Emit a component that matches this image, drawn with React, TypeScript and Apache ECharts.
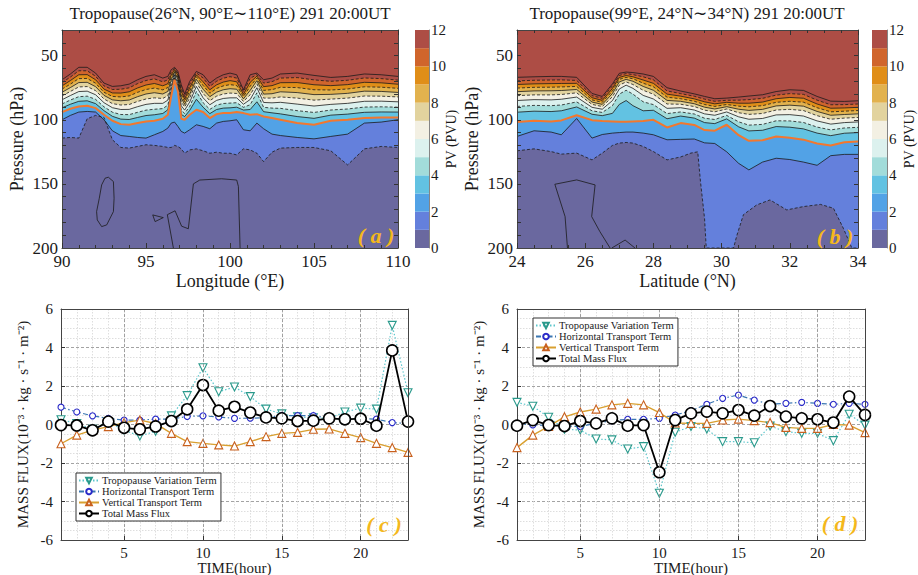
import React, { useEffect, useRef } from 'react';
import * as echarts from 'echarts';

const FONT = 'Liberation Serif, Times New Roman, serif';

// ---------- PV colour bands (0-1, 1-2, ..., 11-12) ----------
const PV_COLORS = ['#6a689f', '#6480dc', '#52a2e6', '#62c2e2', '#a2dcda', '#dcf1ee', '#f3f0e3', '#e2d39e', '#e2b24e', '#e08e18', '#d0652c', '#ad4d45'];
const PRESS_LABELS = [50, 100, 150, 200];
const PRESS_TICKS = [40, 50, 60, 70, 80, 90, 100, 110, 120, 130, 140, 150, 160, 170, 180, 190];

// ---------- panel (a): isolines of PV (pressure, hPa) vs longitude ----------
const LON_L = [90, 90.5, 91, 91.5, 92, 92.5, 93, 93.5, 94, 94.5, 95, 95.5, 96, 96.3, 96.5, 96.7, 96.9, 97.1, 97.3, 97.6, 98, 98.4, 98.8, 99.2, 99.6, 100, 100.4, 100.8, 101.2, 101.6, 102, 102.5, 103, 104, 105, 106, 107, 108, 109, 110];
const A_PV1 = [114.3, 113.8, 114.3, 99.2, 96.6, 98.2, 115.6, 121.6, 122.1, 120.8, 119.5, 120, 120.8, 121.6, 121.6, 120, 120.8, 122.7, 126.1, 123.5, 122.7, 124.2, 126.1, 125.3, 126.1, 126.1, 127.4, 122.7, 123.5, 126.1, 132.6, 125.3, 122.1, 121.6, 121.6, 124.2, 135.2, 122.7, 120.8, 121.6];
const A_PV2 = [100, 96.6, 94, 93.5, 94, 100, 108.6, 112.3, 113, 113.8, 114.3, 111.7, 109.1, 106.5, 102.6, 101.8, 105.2, 109.1, 110.4, 107.8, 103.9, 105.2, 107, 102.6, 101.3, 100.8, 100, 107.8, 108.6, 102.6, 107, 111.2, 112.3, 113.8, 114.9, 113, 111.2, 102.6, 101.8, 100];
const A_PV3 = [94, 91.4, 89.6, 89.1, 90.9, 96.1, 100.8, 103.4, 103.9, 102.6, 101.3, 100.8, 99.2, 96.1, 81.8, 68.8, 77.9, 99.2, 100, 96.1, 92.2, 94, 98.7, 95.6, 94.8, 94.8, 94, 94.8, 96.1, 95.6, 97.4, 98.7, 100, 102.6, 103.9, 100.8, 100, 98.7, 98.2, 98.2];
const A_PV4 = [90.7, 87.9, 85.6, 85.2, 87.4, 92.9, 97.3, 99.5, 99.8, 98.2, 96.7, 96.1, 95.1, 92.2, 79.1, 67.5, 75.9, 95.8, 97.5, 92.7, 84, 90.2, 95.2, 92, 90.9, 90.7, 90.2, 92.4, 92, 86, 93.7, 94.6, 95.4, 97.5, 98.9, 96.4, 95.6, 94.2, 93.9, 94];
const A_PV5 = [87.7, 84.6, 82, 81.6, 84.1, 89.9, 94.1, 95.9, 96, 94.2, 92.5, 91.8, 91.3, 88.6, 76.6, 66.4, 74, 92.6, 95, 89.6, 78, 86.7, 91.9, 88.6, 87.3, 87, 86.7, 90.3, 88.3, 79, 90.3, 90.9, 91.1, 92.9, 94.3, 92.4, 91.6, 90.1, 89.9, 90.2];
const A_PV6 = [84.4, 81.1, 78, 77.7, 80.5, 86.7, 90.6, 92, 91.9, 89.8, 88, 87.2, 87.2, 84.7, 73.9, 65.1, 72, 89.1, 92.5, 86.2, 74, 82.9, 88.3, 84.9, 83.4, 82.9, 82.9, 87.9, 84.2, 75, 86.5, 86.8, 86.4, 87.8, 89.3, 88, 87.2, 85.6, 85.5, 86];
const A_PV7 = [81.4, 77.9, 74.4, 74.1, 77.3, 83.8, 87.4, 88.5, 88.1, 85.7, 83.8, 82.9, 83.4, 81.2, 71.4, 63.9, 70.1, 86, 90, 83.1, 71, 79.5, 85.1, 81.6, 79.9, 79.2, 79.5, 85.7, 80.5, 72, 83.1, 83.1, 82.2, 83.1, 84.7, 83.9, 83.1, 81.5, 81.6, 82.2];
const A_PV8 = [78.6, 74.9, 71, 70.8, 74.2, 81, 84.5, 85.2, 84.6, 82, 79.9, 78.9, 79.9, 77.9, 69.1, 62.9, 68.4, 83, 88, 80.2, 68.5, 76.2, 82, 78.5, 76.6, 75.8, 76.2, 83.7, 77.1, 69.5, 80, 79.7, 78.2, 78.8, 80.4, 80.2, 79.4, 77.7, 77.9, 78.7];
const A_PV9 = [76.1, 72.2, 67.9, 67.8, 71.5, 78.6, 81.8, 82.2, 81.4, 78.6, 76.4, 75.3, 76.7, 74.9, 67, 61.9, 66.8, 80.4, 86, 77.6, 66.5, 73.3, 79.3, 75.6, 73.6, 72.6, 73.3, 81.9, 73.9, 67.5, 77.1, 76.5, 74.7, 74.9, 76.6, 76.8, 76, 74.3, 74.6, 75.5];
const A_PV10 = [73.6, 69.4, 64.9, 64.8, 68.8, 76.1, 79.1, 79.2, 78.2, 75.2, 72.9, 71.7, 73.5, 71.9, 65, 60.9, 65.3, 77.7, 84, 75, 65, 70.4, 76.6, 72.8, 70.6, 69.5, 70.4, 80.1, 70.8, 66, 74.2, 73.4, 71.1, 71, 72.7, 73.4, 72.6, 70.8, 71.2, 72.3];
const A_PV11 = [71.1, 66.7, 61.8, 61.8, 66.1, 73.6, 76.4, 76.2, 75.1, 71.8, 69.4, 68.1, 70.4, 68.9, 62.9, 60, 63.7, 75.1, 82, 72.4, 63.5, 67.5, 73.9, 70, 67.6, 66.4, 67.5, 78.2, 67.7, 64.8, 71.4, 70.3, 67.5, 67.1, 68.9, 70, 69.2, 67.4, 67.9, 69.1];
const A_PV12 = [68.8, 64.3, 59.1, 59.1, 63.6, 71.4, 74, 73.5, 72.2, 68.8, 66.2, 64.9, 67.5, 66.2, 61, 59.1, 62.3, 72.7, 80, 70.1, 62.3, 64.9, 71.4, 67.5, 64.9, 63.6, 64.9, 76.6, 64.9, 63.6, 68.8, 67.5, 64.3, 63.6, 65.4, 67, 66.2, 64.3, 64.9, 66.2];
// PV = 0 contours (lon, hPa)
const A_ZERO_1 = [[92.76, 144.8], [93.06, 148.2], [93.1, 161.2], [93.06, 171.6], [92.66, 182], [92.36, 183.3], [92.1, 178.1], [92.06, 171.6], [92.22, 161.2], [92.36, 150.8], [92.56, 145.6], [92.76, 144.8]];
const A_ZERO_2 = [[95.4, 174.2], [96.03, 176.3], [95.54, 179.4], [95.4, 174.2]];
const A_ZERO_3 = [[96.63, 200], [96.27, 174], [96.73, 171], [97.12, 183], [97.52, 185], [97.82, 150], [98.2, 147], [99.5, 146], [100.4, 147], [100.5, 152], [100.6, 200]];

// ---------- panel (b): isolines of PV vs latitude ----------
const LAT_R = [24, 24.5, 25, 25.3, 25.75, 26.2, 26.5, 26.8, 27.0, 27.2, 27.4, 27.7, 28, 28.4, 28.8, 29.2, 29.5, 29.8, 30.15, 30.5, 30.8, 31.2, 31.6, 32, 32.4, 32.8, 33.2, 33.6, 34];
const B_PV1 = [[24, 124.2], [24.5, 122.7], [25, 124.8], [25.3, 126.8], [25.75, 126], [26.2, 131.3], [26.5, 126], [26.8, 120], [27, 118.2], [27.2, 117.7], [27.4, 118.2], [27.7, 120.8], [28, 124.8], [28.4, 131.3], [28.8, 129], [29.1, 126], [29.3, 125], [29.38, 148], [29.5, 177], [29.55, 200], [30.35, 200], [30.45, 190], [30.64, 174], [31.03, 166.4], [31.42, 162.5], [31.91, 170.3], [32.4, 167.7], [32.9, 166], [33.28, 169], [33.57, 184.6], [33.82, 200], [34, 200]];
const B_PV2 = [113, 108.6, 109.6, 111.7, 99, 114.3, 111.5, 110.4, 110, 109.6, 109.6, 110.4, 111.7, 115.6, 115.3, 115, 118, 118.5, 125, 134, 139.1, 133, 130, 131, 133, 135.5, 128, 127, 127];
const B_PV3 = [101.8, 100.8, 101.3, 100.5, 96.5, 100.3, 101, 101.3, 101.5, 101.5, 101.3, 101, 100, 106, 102.6, 104, 108, 108.5, 103.9, 112, 116.4, 116, 113, 114, 115.5, 118.5, 120, 117.5, 117];
const B_PV4 = [94.1, 93.3, 93.6, 93, 90, 95.7, 96.8, 95, 88, 85, 89, 93, 92.6, 99.2, 97.1, 98.7, 102.2, 103, 99.3, 105.5, 108.7, 108.2, 105.3, 105.8, 107.1, 110.4, 112.4, 110.5, 110];
const B_PV5 = [89.6, 88.8, 89, 88.5, 86.1, 93, 94.3, 89, 80, 77, 80, 86, 88.2, 95.2, 93.9, 95.5, 98.8, 99.8, 96.6, 101.6, 104.2, 103.6, 100.8, 100.9, 102.1, 105.7, 107.9, 106.4, 105.9];
const B_PV6 = [85, 84.3, 84.5, 84, 82.3, 90.3, 91.8, 85, 76, 73, 75.5, 81, 83.8, 91.1, 90.6, 92.4, 95.4, 96.5, 93.9, 97.7, 99.6, 99, 96.2, 96, 97.1, 100.9, 103.4, 102.2, 101.7];
const B_PV7 = [81.2, 80.6, 80.6, 80.3, 79, 88, 89.7, 82, 73, 70.5, 72.5, 77, 80.1, 87.7, 87.9, 89.7, 92.5, 93.8, 91.6, 94.5, 95.8, 95.1, 92.4, 91.9, 92.8, 96.8, 99.6, 98.7, 98.2];
const B_PV8 = [78.1, 77.5, 77.4, 77.2, 76.4, 86.2, 88, 79.5, 70.5, 68.5, 70, 74, 77, 84.9, 85.6, 87.5, 90.2, 91.6, 89.8, 91.8, 92.7, 91.9, 89.2, 88.6, 89.4, 93.5, 96.5, 95.9, 95.4];
const B_PV9 = [75.3, 74.7, 74.6, 74.4, 74, 84.5, 86.4, 77.5, 68.5, 67, 68, 71.5, 74.3, 82.4, 83.6, 85.6, 88.1, 89.6, 88.1, 89.4, 89.9, 89, 86.4, 85.6, 86.3, 90.6, 93.8, 93.3, 92.8];
const B_PV10 = [72.5, 72, 71.8, 71.7, 71.6, 82.8, 84.9, 75.5, 67, 65.5, 66.5, 69, 71.6, 80, 81.6, 83.7, 86, 87.6, 86.4, 87.1, 87.1, 86.2, 83.6, 82.6, 83.2, 87.7, 91, 90.8, 90.3];
const B_PV11 = [69.7, 69.2, 69, 68.9, 69.3, 81.2, 83.3, 73.5, 65.5, 64, 64.8, 66.5, 68.9, 77.5, 79.6, 81.7, 83.9, 85.6, 84.8, 84.7, 84.3, 83.3, 80.8, 79.6, 80.2, 84.7, 88.3, 88.2, 87.7];
const B_PV12 = [66.9, 66.5, 66.2, 66.2, 66.9, 79.5, 81.8, 72, 63.8, 62.8, 63.2, 64.3, 66.2, 75, 77.6, 79.8, 81.8, 83.6, 83.1, 82.3, 81.5, 80.5, 78, 76.6, 77.1, 81.8, 85.5, 85.7, 85.2];
const B_ZERO_1 = [[25.48, 200], [25.41, 175.5], [25.11, 150.3], [25.75, 146.9], [26.29, 150.8], [26.19, 175.5], [26.43, 187.2], [26.73, 200]];
const B_ZERO_2 = [[26.78, 200], [27.17, 193.8], [27.46, 200]];

// ---------- panels (c), (d): mass flux ----------
const HOURS = [1, 2, 3, 4, 5, 6, 7, 8, 9, 10, 11, 12, 13, 14, 15, 16, 17, 18, 19, 20, 21, 22, 23];
const SERIES_NAMES = ['Tropopause Variation Term', 'Horizontal Transport Term', 'Vertical Transport Term', 'Total Mass Flux'];
const C_TROP = [0.25, 0.05, -0.25, 0.15, -0.3, -0.6, -0.35, 0.45, 1.5, 2.95, 1.7, 1.95, 1.45, 0.8, 0.55, 0.4, 0.35, 0.32, 0.65, 0.85, 0.8, 5.15, 1.65];
const C_HORI = [0.9, 0.65, 0.45, 0.32, 0.23, 0.23, 0.28, 0.28, 0.42, 0.45, 0.39, 0.32, 0.33, 0.35, 0.47, 0.46, 0.46, 0.32, 0.3, 0.3, 0.28, 0.1, 0.05];
const C_VERT = [-1.0, -0.55, -0.29, -0.11, 0.1, 0.23, 0.05, -0.46, -0.89, -0.98, -1.06, -1.12, -0.89, -0.63, -0.46, -0.41, -0.25, -0.23, -0.46, -0.68, -0.98, -1.2, -1.45];
const C_TOTAL = [-0.03, -0.05, -0.3, 0.15, -0.17, -0.25, -0.1, 0.18, 0.79, 2.05, 0.72, 0.92, 0.62, 0.37, 0.32, 0.18, 0.2, 0.32, 0.27, 0.3, -0.06, 3.85, 0.15];
const D_TROP = [1.15, 0.95, 0.38, -0.25, -0.29, -0.75, -0.8, -1.27, -1.15, -3.57, -0.4, -0.11, -0.23, -0.89, -0.89, -0.95, -0.08, -0.37, -0.46, -0.46, -0.84, 0.53, -0.03];
const D_HORI = [0.05, -0.02, -0.05, -0.08, -0.1, 0.06, 0.2, 0.27, 0.27, 0.32, 0.49, 0.72, 1.05, 1.36, 1.53, 1.27, 1.05, 1.1, 1.15, 1.1, 1.05, 1.1, 1.05];
const D_VERT = [-1.2, -0.55, -0.1, 0.4, 0.65, 0.8, 1.02, 1.1, 1.02, 0.62, 0.08, 0.06, 0.06, 0.23, 0.28, 0.2, 0.1, -0.15, -0.2, -0.2, 0.0, -0.03, -0.42];
const D_TOTAL = [-0.06, 0.23, -0.03, -0.08, 0.18, 0.06, 0.32, -0.06, -0.03, -2.48, 0.23, 0.58, 0.67, 0.58, 0.75, 0.46, 0.96, 0.41, 0.32, 0.27, 0.1, 1.45, 0.5];
const HOUR_LABELS = [5, 10, 15, 20];

const zip = (xs: number[], ys: number[]) => xs.map((x, i) => [x, ys[i]]);

function contourSeries(xs: number[], l1: number[][], levels: number[][], zeros: number[][][], xi: number, yi: number) {
  const all = [l1, ...levels.map((l) => zip(xs, l))]; // PV = 1 .. 12
  const out: any[] = [];
  all.forEach((d, idx) => {
    const k = idx + 1;
    if (k <= 11) {
      out.push({
        type: 'line', xAxisIndex: xi, yAxisIndex: yi, data: d, symbol: 'none', silent: true,
        lineStyle: { opacity: 0, width: 0 }, areaStyle: { color: PV_COLORS[k], opacity: 1 }, z: 2,
      });
    }
  });
  all.forEach((d, idx) => {
    const k = idx + 1;
    out.push({
      type: 'line', xAxisIndex: xi, yAxisIndex: yi, data: d, symbol: 'none', silent: true, z: k === 3 ? 4 : 3,
      lineStyle: k === 3 ? { color: '#f2772e', width: 2 } : { color: '#1a1a1a', width: 0.8, type: k % 2 === 1 ? [3, 2] : 'solid' },
    });
  });
  zeros.forEach((d) => {
    out.push({ type: 'line', xAxisIndex: xi, yAxisIndex: yi, data: d, symbol: 'none', silent: true, z: 3, lineStyle: { color: '#1a1a1a', width: 0.8 } });
  });
  return out;
}

function colorbarSeries(xi: number, yi: number, stack: string) {
  return PV_COLORS.map((c) => ({
    type: 'bar', xAxisIndex: xi, yAxisIndex: yi, stack, data: [1], barWidth: '100%', silent: true,
    itemStyle: { color: c },
  }));
}

function fluxSeries(xi: number, yi: number, trop: number[], hori: number[], vert: number[], total: number[]) {
  return [
    {
      name: SERIES_NAMES[0], type: 'line', xAxisIndex: xi, yAxisIndex: yi, data: zip(HOURS, trop),
      symbol: 'triangle', symbolRotate: 180, symbolSize: 8, z: 4,
      itemStyle: { color: '#ffffff', borderColor: '#2a9a8c', borderWidth: 1.1 },
      lineStyle: { color: '#5cc6cc', width: 1.2, type: [1.5, 2] },
    },
    {
      name: SERIES_NAMES[1], type: 'line', xAxisIndex: xi, yAxisIndex: yi, data: zip(HOURS, hori),
      symbol: 'circle', symbolSize: 6, z: 4,
      itemStyle: { color: '#ffffff', borderColor: '#2a2ac8', borderWidth: 1.1 },
      lineStyle: { color: '#3a76b2', width: 1.2, type: [5, 2.5, 1.5, 2.5] },
    },
    {
      name: SERIES_NAMES[2], type: 'line', xAxisIndex: xi, yAxisIndex: yi, data: zip(HOURS, vert),
      symbol: 'triangle', symbolSize: 8, z: 4,
      itemStyle: { color: '#ffffff', borderColor: '#c8601e', borderWidth: 1.1 },
      lineStyle: { color: '#d9a030', width: 1.4 },
    },
    {
      name: SERIES_NAMES[3], type: 'line', xAxisIndex: xi, yAxisIndex: yi, data: zip(HOURS, total),
      symbol: 'circle', symbolSize: 11, z: 5,
      itemStyle: { color: '#ffffff', borderColor: '#000000', borderWidth: 1.6 },
      lineStyle: { color: '#000000', width: 1.8 },
    },
  ];
}

const txt = { fontFamily: FONT, color: '#1a1a1a' };
const frameLine = { show: true, onZero: false, lineStyle: { color: '#444', width: 1 } };

function contourX(grid: number, min: number, max: number, interval: number, minorSplit: number, name: string, top: boolean) {
  return {
    gridIndex: grid, type: 'value', min, max, interval, position: top ? 'top' : 'bottom', z: 6,
    axisLine: frameLine,
    axisTick: { show: true, inside: true, length: 5, lineStyle: { color: '#333' } },
    minorTick: { show: true, splitNumber: minorSplit, length: 3, lineStyle: { color: '#333' } },
    axisLabel: top ? { show: false } : { ...txt, fontSize: 17, margin: 5 },
    splitLine: { show: false },
    name: top ? '' : name, nameLocation: 'middle', nameGap: 24, nameMoveOverlap: false, nameTextStyle: { ...txt, fontSize: 18 },
  };
}

function contourY(grid: number, right: boolean) {
  return {
    gridIndex: grid, type: 'value', inverse: true, min: 30, max: 200, position: right ? 'right' : 'left', z: 6,
    axisLine: frameLine,
    axisTick: { show: true, inside: true, length: 4, customValues: PRESS_TICKS, lineStyle: { color: '#333' } },
    axisLabel: right ? { show: false } : { ...txt, fontSize: 17, margin: 4, customValues: PRESS_LABELS },
    splitLine: { show: false },
    name: right ? '' : 'Pressure (hPa)', nameLocation: 'middle', nameGap: 36, nameMoveOverlap: false, nameTextStyle: { ...txt, fontSize: 18 },
  };
}

function colorbarY(grid: number) {
  return {
    gridIndex: grid, type: 'value', min: 0, max: 12, interval: 2, position: 'right', z: 6,
    axisLine: { show: true, onZero: false, lineStyle: { color: '#666', width: 0.8 } },
    axisTick: { show: false },
    axisLabel: { ...txt, fontSize: 15, margin: 2 },
    splitLine: { show: false },
    name: 'PV (PVU)', nameLocation: 'middle', nameGap: 15, nameMoveOverlap: false, nameTextStyle: { ...txt, fontSize: 14 },
  };
}

function fluxX(grid: number, kind: 'main' | 'minor' | 'top') {
  if (kind === 'minor') {
    return {
      gridIndex: grid, type: 'value', min: 1, max: 23, interval: 1, position: 'bottom', z: 1,
      axisLine: { show: false, onZero: false }, axisTick: { show: false }, axisLabel: { show: false },
      splitLine: { show: true, lineStyle: { color: '#d6d6d6', width: 0.8, type: [1.5, 1.5] } },
    };
  }
  if (kind === 'top') {
    return {
      gridIndex: grid, type: 'value', min: 1, max: 23, position: 'top', z: 6,
      axisLine: frameLine, axisTick: { show: false }, axisLabel: { show: false }, splitLine: { show: false },
    };
  }
  return {
    gridIndex: grid, type: 'value', min: 1, max: 23, position: 'bottom', z: 6,
    axisLine: frameLine,
    axisTick: { show: true, inside: true, length: 4, customValues: HOUR_LABELS, lineStyle: { color: '#333' } },
    axisLabel: { ...txt, fontSize: 15, margin: 5, customValues: HOUR_LABELS },
    splitLine: { show: true, lineStyle: { color: '#8c8c8c', width: 0.8, type: [3, 2] } },
    name: 'TIME(hour)', nameLocation: 'middle', nameGap: 20, nameMoveOverlap: false, nameTextStyle: { ...txt, fontSize: 15 },
  };
}

function fluxY(grid: number, right: boolean) {
  return {
    gridIndex: grid, type: 'value', min: -6, max: 6, interval: 2, position: right ? 'right' : 'left', z: right ? 6 : 1,
    axisLine: frameLine,
    axisTick: { show: !right, inside: true, length: 4, lineStyle: { color: '#333' } },
    axisLabel: right ? { show: false } : { ...txt, fontSize: 15, margin: 8 },
    splitLine: { show: !right, lineStyle: { color: '#8c8c8c', width: 0.8, type: [3, 2] } },
    minorTick: { show: false, splitNumber: 4 },
    minorSplitLine: { show: !right, lineStyle: { color: '#d6d6d6', width: 0.8, type: [1.5, 1.5] } },
    name: right ? '' : 'MASS FLUX(10⁻³ · kg · s⁻¹ · m⁻²)', nameLocation: 'middle', nameGap: 31, nameMoveOverlap: false,
    nameTextStyle: { ...txt, fontSize: 15 },
  };
}

function legend(left: number, top: number) {
  return {
    left, top, orient: 'vertical', data: SERIES_NAMES, selectedMode: false,
    itemGap: 0, itemWidth: 20, itemHeight: 7,
    textStyle: { ...txt, fontSize: 10.5, padding: [0, 0, 0, -2] },
    borderColor: '#333', borderWidth: 1, backgroundColor: '#ffffff', padding: [2, 4, 2, 2], z: 10,
  };
}

function panelLabel(letter: string, x: number, y: number) {
  return {
    type: 'text', x, y, z: 100,
    style: {
      text: '( ' + letter + ' )', fill: '#f4b81c', fontFamily: FONT, fontSize: 22, fontStyle: 'italic', fontWeight: 'bold',
      textAlign: 'center', textVerticalAlign: 'middle',
    },
  };
}

function titleText(text: string, x: number) {
  return {
    type: 'text', x, y: 13, z: 100,
    style: { text, fill: '#1a1a1a', fontFamily: FONT, fontSize: 17, textAlign: 'center', textVerticalAlign: 'middle' },
  };
}

function buildOption() {
  const gridBase = { containLabel: false, outerBoundsMode: 'none' };
  return {
    animation: false,
    backgroundColor: '#ffffff',
    grid: [
      { ...gridBase, left: 62, top: 30, width: 336, height: 218, show: true, backgroundColor: PV_COLORS[0], borderWidth: 0 },
      { ...gridBase, left: 415, top: 30, width: 14, height: 218 },
      { ...gridBase, left: 517, top: 30, width: 341, height: 218, show: true, backgroundColor: PV_COLORS[0], borderWidth: 0 },
      { ...gridBase, left: 872, top: 30, width: 15, height: 218 },
      { ...gridBase, left: 61, top: 309, width: 347, height: 231 },
      { ...gridBase, left: 517, top: 309, width: 348, height: 231 },
    ],
    xAxis: [
      contourX(0, 90, 110, 5, 5, 'Longitude (°E)', false),
      contourX(0, 90, 110, 5, 5, '', true),
      { gridIndex: 1, type: 'category', data: ['PV'], show: false },
      contourX(2, 24, 34, 2, 4, 'Latitude (°N)', false),
      contourX(2, 24, 34, 2, 4, '', true),
      { gridIndex: 3, type: 'category', data: ['PV'], show: false },
      fluxX(4, 'main'),
      fluxX(4, 'minor'),
      fluxX(4, 'top'),
      fluxX(5, 'main'),
      fluxX(5, 'minor'),
      fluxX(5, 'top'),
    ],
    yAxis: [
      contourY(0, false),
      contourY(0, true),
      colorbarY(1),
      contourY(2, false),
      contourY(2, true),
      colorbarY(3),
      fluxY(4, false),
      fluxY(4, true),
      fluxY(5, false),
      fluxY(5, true),
    ],
    legend: [legend(76, 473), legend(533, 318)],
    series: [
      ...contourSeries(LON_L, zip(LON_L, A_PV1), [A_PV2, A_PV3, A_PV4, A_PV5, A_PV6, A_PV7, A_PV8, A_PV9, A_PV10, A_PV11, A_PV12], [A_ZERO_1, A_ZERO_2, A_ZERO_3], 0, 0),
      ...colorbarSeries(2, 2, 'cbL'),
      ...contourSeries(LAT_R, B_PV1, [B_PV2, B_PV3, B_PV4, B_PV5, B_PV6, B_PV7, B_PV8, B_PV9, B_PV10, B_PV11, B_PV12], [B_ZERO_1, B_ZERO_2], 3, 3),
      ...colorbarSeries(5, 5, 'cbR'),
      ...fluxSeries(6, 6, C_TROP, C_HORI, C_VERT, C_TOTAL),
      ...fluxSeries(9, 8, D_TROP, D_HORI, D_VERT, D_TOTAL),
    ],
    graphic: [
      titleText('Tropopause(26°N, 90°E∼110°E) 291 20:00UT', 230),
      titleText('Tropopause(99°E, 24°N∼34°N) 291 20:00UT', 687),
      panelLabel('a', 376, 235),
      panelLabel('b', 835, 236),
      panelLabel('c', 384, 524),
      panelLabel('d', 840, 523),
    ],
  };
}

export default function App() {
  const ref = useRef<HTMLDivElement>(null);
  useEffect(() => {
    if (!ref.current) return;
    const chart = echarts.init(ref.current, null, { renderer: 'svg' });
    chart.setOption(buildOption() as any);
    return () => chart.dispose();
  }, []);
  return <div ref={ref} style={{ position: 'fixed', left: 0, top: 0, width: 918, height: 575, background: '#fff' }} />;
}
